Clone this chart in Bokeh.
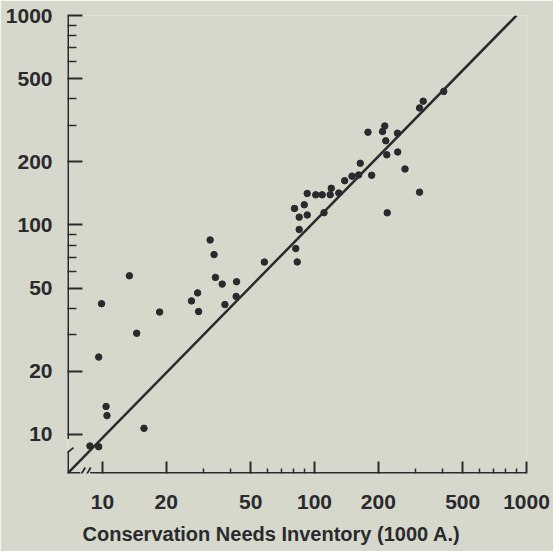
from bokeh.plotting import figure
from bokeh.models import FixedTicker, NumeralTickFormatter, Title
from bokeh.embed import file_html
from bokeh.resources import INLINE

# ---- data ----
cni_x = [407, 325.6, 313, 214.6, 209.4, 178.8, 246.3, 216.9, 219.3, 246.9,
         267.3, 164.4, 138.8, 150.3, 161.6, 186.1, 313, 120, 118.6, 130.2,
         108.7, 101.4, 92.4, 89.5, 80.5, 84.7, 92.4, 110.9, 220.3, 84.7,
         81.6, 82.9, 32.2, 33.6, 58, 13.4, 34.1, 36.7, 42.9, 28.1,
         26.3, 42.7, 37.8, 28.4, 9.9, 18.6, 14.5, 9.6, 10.4, 10.5,
         15.7, 8.73, 9.6]
est_y = [434, 390, 362, 297, 279.4, 277.3, 274.3, 252.3, 216.3, 223,
         185, 197, 162.7, 171, 173.3, 172.7, 143.4, 149.7, 139.5, 142.1,
         139.3, 139.3, 141.4, 124.9, 119.9, 109, 111.6, 114.5, 114.3, 95.2,
         77.2, 66.6, 84.8, 72.2, 66.5, 57.2, 56.2, 52.2, 53.6, 47.4,
         43.4, 45.6, 41.7, 38.6, 42.1, 38.4, 30.4, 23.4, 13.6, 12.3,
         10.7, 8.81, 8.74]
line_x = [6.84, 897]
line_y = [6.51, 1000]

x_major = [10, 20, 50, 100, 200, 500, 1000]
x_minor = [30, 40, 60, 70, 80, 90, 300, 400, 600, 700, 800, 900]
y_major = [10, 20, 50, 100, 200, 500, 1000]
y_minor = [30, 40, 60, 70, 80, 90, 300, 400, 600, 700, 800, 900]
x_title = "Conservation Needs Inventory (1000 A.)"

x_start, x_end = 6.84, 1000
y_start, y_end = 6.51, 1000

BG = "#d5d8cb"
INK = "#2a2a2e"
FONT = "Liberation Sans"

p = figure(x_axis_type="log", y_axis_type="log",
           x_range=(x_start, x_end), y_range=(y_start, y_end),
           frame_width=459, frame_height=458,
           min_border_left=67, min_border_right=27, min_border_top=15,
           min_border_bottom=78,
           output_backend="svg", toolbar_location=None,
           background_fill_color=BG, border_fill_color=BG,
           outline_line_color=None)
p.grid.visible = False

for ax, maj, mnr, tin, tmin in ((p.xaxis, x_major, x_minor, 12, 5),
                                 (p.yaxis, y_major, y_minor, 15, 9)):
    ax.ticker = FixedTicker(ticks=maj, minor_ticks=mnr)
    ax.formatter = NumeralTickFormatter(format="0")
    ax.major_tick_in = tin
    ax.major_tick_out = 0
    ax.minor_tick_in = tmin
    ax.minor_tick_out = 0
    ax.major_tick_line_width = 2
    ax.minor_tick_line_width = 1.5
    ax.major_tick_line_color = INK
    ax.minor_tick_line_color = INK
    ax.axis_line_color = None
    ax.major_label_text_font = FONT
    ax.major_label_text_font_style = "bold"
    ax.major_label_text_font_size = "21px"
    ax.major_label_text_color = INK

p.xaxis.major_label_standoff = 21
p.yaxis.major_label_standoff = 15

# axis lines with breaks
p.segment(x0=[x_start, x_start, x_start, 8.75],
          y0=[y_end, 8.3, y_start, y_start],
          x1=[x_start, x_start, 7.85, x_end],
          y1=[9.5, y_start, y_start, y_start],
          line_color=INK, line_width=3)
p.segment(x0=[x_start, 7.85, 8.35], y0=[8.2, 6.35, 6.35],
          x1=[7.3, 8.3, 8.8], y1=[8.65, 6.95, 6.95],
          line_color=INK, line_width=1.8)

p.line(line_x, line_y, line_color=INK, line_width=2.5)
p.scatter(cni_x, est_y, size=6.5, color=INK)

t = Title(text=x_title, align="left", offset=15, standoff=19, text_font=FONT,
          text_font_style="bold", text_font_size="20px", text_color=INK)
p.add_layout(t, "below")

open("out.html", "w").write(file_html(p, INLINE))
